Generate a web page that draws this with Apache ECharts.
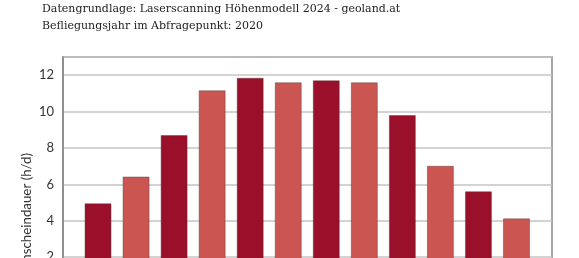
<!DOCTYPE html>
<html><head><meta charset="utf-8">
<script src="https://cdn.jsdelivr.net/npm/echarts@6/dist/echarts.min.js"></script>
<style>html,body{margin:0;padding:0;background:#fff}#c{width:579px;height:258px}</style>
</head><body><div id="c"></div>
<script>
var titleLines = ["Datengrundlage: Laserscanning Höhenmodell 2024 - geoland.at", "Befliegungsjahr im Abfragepunkt: 2020"];
var yAxisName = "Sonnenscheindauer (h/d)";
var months = ["Jan", "Feb", "Mär", "Apr", "Mai", "Jun", "Jul", "Aug", "Sep", "Okt", "Nov", "Dez"];
var sunHours = [4.96, 6.43, 8.71, 11.17, 11.86, 11.61, 11.72, 11.61, 9.81, 7.02, 5.62, 4.13];
var yTicks = [0, 2, 4, 6, 8, 10, 12];
var barColors = ["#9a0f2a", "#cb5550"];

var chart = echarts.init(document.getElementById('c'), null, {renderer: 'canvas'});
var yMin = 0, yMax = 13;
chart.setOption({
  animation: false,
  title: {
    text: titleLines.join("\n"), left: 42, top: 0, padding: 0,
    textStyle: {fontFamily: "DejaVu Serif", fontSize: 11, fontWeight: 'normal', color: '#222', lineHeight: 17.3}
  },
  graphic: [{
    type: 'text', x: 27, y: 153, rotation: Math.PI / 2,
    style: {text: yAxisName, fontFamily: "Lato", fontSize: 13.3, fill: '#333', align: 'right', verticalAlign: 'middle'}
  }],
  grid: [
    {left: 63, width: 489, top: 57, height: 236.5, outerBoundsMode: 'none', containLabel: false,
     show: true, borderColor: '#888', borderWidth: 1.5, backgroundColor: 'transparent'},
    {left: 79, width: 456.5, top: 57, height: 236.5, outerBoundsMode: 'none', containLabel: false}
  ],
  xAxis: [
    {gridIndex: 0, type: 'category', data: [], show: false},
    {gridIndex: 1, type: 'category', data: months, axisLine: {show: false}, axisTick: {show: false}, axisLabel: {show: false}}
  ],
  yAxis: [
    {gridIndex: 0, type: 'value', min: yMin, max: yMax, interval: 2,
     axisLine: {show: true, lineStyle: {color: '#888', width: 1.5}}, axisTick: {show: false},
     axisLabel: {margin: 9, fontFamily: "Lato", fontSize: 13, color: '#333',
       formatter: function (v) { return yTicks.indexOf(v) >= 0 ? String(v) : ''; }},
     splitLine: {show: true, lineStyle: {color: '#c4c4c4', width: 1.5}}},
    {gridIndex: 1, type: 'value', min: yMin, max: yMax, show: false, splitLine: {show: false}}
  ],
  series: [{
    type: 'bar', xAxisIndex: 1, yAxisIndex: 1, barWidth: 27,
    data: sunHours.map(function (v, i) {
      return {value: v, itemStyle: {color: barColors[i % 2], borderColor: 'rgba(90,60,60,0.45)', borderWidth: 1}};
    })
  }]
});
</script></body></html>
